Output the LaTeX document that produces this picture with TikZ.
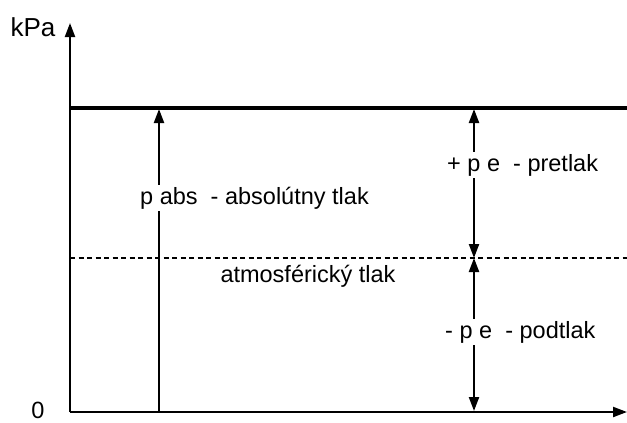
\documentclass[tikz,border=0pt]{standalone}
\usepackage{fontspec}
\setmainfont{Liberation Sans}
\usetikzlibrary{arrows.meta}
\begin{document}
\begin{tikzpicture}[x=1pt,y=-1pt,
  tip/.style={-{Triangle[width=10pt,length=14pt]}},
  dtip/.style={{Triangle[width=10pt,length=14pt]}-{Triangle[width=10pt,length=14pt]}},
  lbl/.style={font=\fontsize{23.5}{28}\selectfont, inner sep=1pt},
  lblw/.style={lbl, fill=white, inner sep=2pt}]
\useasboundingbox (0,0) rectangle (627,423);
% coordinates
\coordinate (O) at (70,412);
\coordinate (Ytop) at (70,23);
\coordinate (Xend) at (627,412);
\coordinate (Tl) at (70,108);
\coordinate (Tr) at (627,108);
\coordinate (Al) at (70,258);
\coordinate (Ar) at (627,258);
\coordinate (Pb) at (159,412);
\coordinate (Pt) at (159,109);
\coordinate (Rt) at (474,109);
\coordinate (Rm) at (474,258);
\coordinate (Rb) at (474,411);
% axes
\draw[line width=2.2pt, tip] (O) -- (Ytop);
\draw[line width=2.2pt, tip] (O) -- (Xend);
\draw[line width=4pt] (Tl) -- (Tr);
\draw[line width=2.2pt, dash pattern=on 5pt off 3.5pt] (Al) -- (Ar);
% arrows
\draw[line width=2.2pt, tip] (Pb) -- (Pt);
\draw[line width=2.2pt, dtip] (Rm) -- (Rt);
\draw[line width=2.2pt, dtip] (Rm) -- (Rb);
% labels
\node[lbl, font=\fontsize{26}{30}\selectfont] (kpa) at (33,27) {kPa};
\node[lbl] (zero) at (38,410) {0};
\node[lblw, anchor=west] (pabs) at (138,198) {p abs\ \ - absolútny tlak};
\node[lblw, anchor=west] (pre) at (445,165) {+ p e\ \ - pretlak};
\node[lblw, anchor=west] (pod) at (443,332) {- p e\ \ - podtlak};
\node[lbl] (atm) at (308,276) {atmosférický tlak};
\end{tikzpicture}
\end{document}
